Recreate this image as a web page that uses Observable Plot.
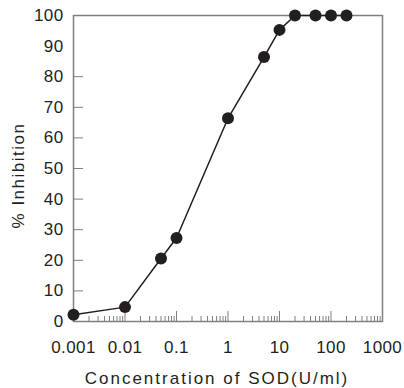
<!DOCTYPE html>
<html><head><meta charset="utf-8">
<script src="https://cdn.jsdelivr.net/npm/d3@7"></script>
<script src="https://cdn.jsdelivr.net/npm/@observablehq/plot@0.6"></script>
<style>body{margin:0;background:#fff}</style>
</head><body><div id="chart"></div>
<script>
const concentration = [0.001, 0.01, 0.05, 0.1, 1, 5, 10, 20, 50, 100, 200];
const inhibition = [2.2, 4.7, 20.6, 27.3, 66.4, 86.4, 95.3, 100, 100, 100, 100];
const xTickLabels = [0.001, 0.01, 0.1, 1, 10, 100, 1000];
const xMinorMultipliers = [2, 3, 4, 5, 6, 7, 8, 9];
const yTickLabels = [0, 10, 20, 30, 40, 50, 60, 70, 80, 90, 100];
const yTicks = [10, 20, 30, 40, 50, 60, 70, 80];
const xTitle = "Concentration of SOD(U/ml)";
const yTitle = "% Inhibition";

const data = concentration.map((c, i) => ({c, v: inhibition[i]}));
const xMinor = xTickLabels.slice(0, -1).flatMap(d => xMinorMultipliers.map(m => d * m));

const ink = "#231f20";
const gray = "#808080";

const chart = Plot.plot({
  width: 404,
  height: 388,
  marginLeft: 73,
  marginRight: 22,
  marginTop: 15,
  marginBottom: 67,
  style: {fontFamily: "Liberation Sans, Arial, sans-serif", fontSize: "17px", color: ink, background: "#fff"},
  x: {type: "log", domain: [0.001, 1000]},
  y: {domain: [0, 100]},
  marks: [
    Plot.axisX(xTickLabels, {tickSize: 0, tickPadding: 19, tickFormat: d => String(d), label: null, fontSize: 17, fill: ink}),
    Plot.axisX(xTickLabels, {tickSize: -10, text: null, stroke: gray, label: null}),
    Plot.axisX(xMinor, {tickSize: -5, text: null, stroke: gray, label: null}),
    Plot.axisY(yTickLabels, {tickSize: 0, tickPadding: 10, label: null, fontSize: 17, fill: ink}),
    Plot.axisY(yTicks, {tickSize: -10, text: null, stroke: gray, label: null}),
    Plot.frame({stroke: gray, strokeWidth: 1.5}),
    Plot.line(data, {x: "c", y: "v", stroke: ink, strokeWidth: 1.5}),
    Plot.dot(data, {x: "c", y: "v", r: 6, fill: ink, stroke: null}),
    Plot.text([xTitle], {frameAnchor: "bottom", dx: -11, dy: 62, fontSize: 17, fill: ink, text: d => d}),
    Plot.text([yTitle], {frameAnchor: "left", textAnchor: "middle", dx: -55, dy: 7, rotate: -90, fontSize: 17, fill: ink, text: d => d})
  ]
});
d3.select(chart).selectAll("text").each(function() {
  const t = this.textContent;
  if (t === xTitle) this.setAttribute("letter-spacing", "2");
  else if (t === yTitle) this.setAttribute("letter-spacing", "1.5");
  else this.setAttribute("letter-spacing", "0.4");
});
document.getElementById("chart").append(chart);
</script>
</body></html>
